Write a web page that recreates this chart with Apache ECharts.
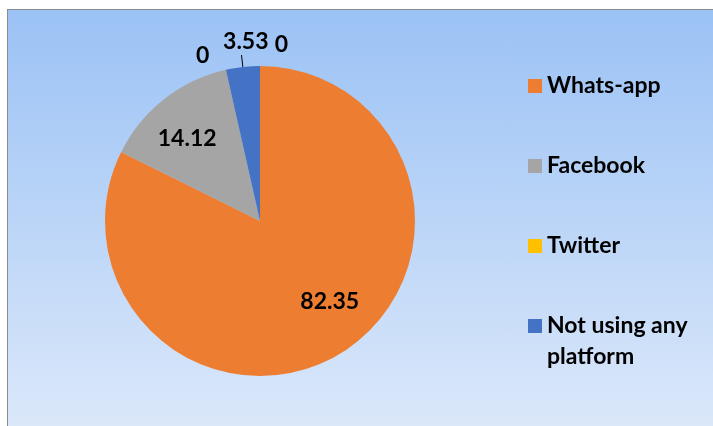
<!DOCTYPE html>
<html>
<head>
<meta charset="utf-8">
<script src="https://cdn.jsdelivr.net/npm/echarts@6/dist/echarts.min.js"></script>
<style>
	html, body { margin: 0; padding: 0; background: #ffffff; }
	#frame {
		position: absolute; left: 7px; top: 9px; width: 720px; height: 430px;
		border-left: 1px solid #8c8c8c; border-top: 1px solid #8c8c8c;
		background: linear-gradient(to bottom, #9bc2f5 0%, #dde9fa 100%);
	}
	#chart-container { position: absolute; left: 0; top: 0; width: 713px; height: 426px; }
</style>
</head>
<body>
<div id="frame"></div>
<div id="chart-container"></div>
<script>
var categories = ['Whats-app', 'Facebook', 'Twitter', 'Not using any platform', ''];
var values = [82.35, 14.12, 0, 3.53, 0];
var colors = ['#ed7d31', '#a5a5a5', '#ffc000', '#4472c4', '#5b9bd5'];
var insideLabels = [true, true, false, false, false];

var chartDom = document.getElementById('chart-container');
var myChart = echarts.init(chartDom);
var option;

var fontName = 'Lato';

// bold value text, used by both pie series
var valueLabel = {
	formatter: '{v|{c}}',
	rich: {
		v: {
			fontFamily: fontName,
			fontWeight: 'bold',
			fontSize: 23,
			color: '#000000'
		}
	}
};

// visible pie, carries outside labels
var pieData = values.map(function (v, i) {
	return {
		name: categories[i],
		value: v,
		itemStyle: { color: colors[i] },
		label: { show: !insideLabels[i] },
		labelLine: { show: i === 3 }
	};
});

// transparent ring on top, only for the labels inside the slices
var labelData = values.map(function (v, i) {
	return {
		name: categories[i],
		value: v,
		label: { show: insideLabels[i] }
	};
});

option = {
	legend: {
		orient: 'vertical',
		left: 523,
		top: 66,
		itemWidth: 14,
		itemHeight: 14,
		itemGap: 50,
		icon: 'rect',
		data: categories.slice(0, 4),
		formatter: function (name) {
			return name === 'Not using any platform' ? 'Not using any' : name;
		},
		textStyle: {
			fontFamily: fontName,
			fontWeight: 'bold',
			fontSize: 23,
			color: '#000000',
			lineHeight: 30
		}
	},
	graphic: [{
		type: 'text',
		left: 547,
		top: 345,
		style: {
			text: 'platform',
			font: 'bold 23px ' + fontName,
			fill: '#000000'
		}
	}],
	series: [
		{
			type: 'pie',
			center: [260, 221],
			radius: [0, 155],
			startAngle: 90,
			clockwise: true,
			avoidLabelOverlap: false,
			minShowLabelAngle: -1,
			data: pieData,
			label: Object.assign({ position: 'outside' }, valueLabel),
			labelLine: {
				length: 12,
				length2: 0,
				lineStyle: { color: '#000000', width: 1 }
			},
			labelLayout: function (params) {
				if (params.dataIndex === 2) return { dx: -9, dy: -3, hideOverlap: false };
				if (params.dataIndex === 3) return { dx: 32, dy: -13, hideOverlap: false };
				if (params.dataIndex === 4) return { dx: 33, dy: -9, hideOverlap: false };
				return {};
			},
			emphasis: { disabled: true }
		},
		{
			type: 'pie',
			center: [260, 221],
			radius: [62, 155],
			startAngle: 90,
			clockwise: true,
			silent: true,
			legendHoverLink: false,
			data: labelData,
			itemStyle: { color: 'rgba(0,0,0,0)' },
			label: Object.assign({ position: 'inside' }, valueLabel),
			labelLayout: function (params) {
				if (params.dataIndex === 0) return { dx: 11, dy: -14 };
				if (params.dataIndex === 1) return { dx: -4, dy: 5 };
				return {};
			}
		}
	]
};

myChart.setOption(option);

window.addEventListener('resize', function () {
	myChart.resize();
});
</script>
</body>
</html>
